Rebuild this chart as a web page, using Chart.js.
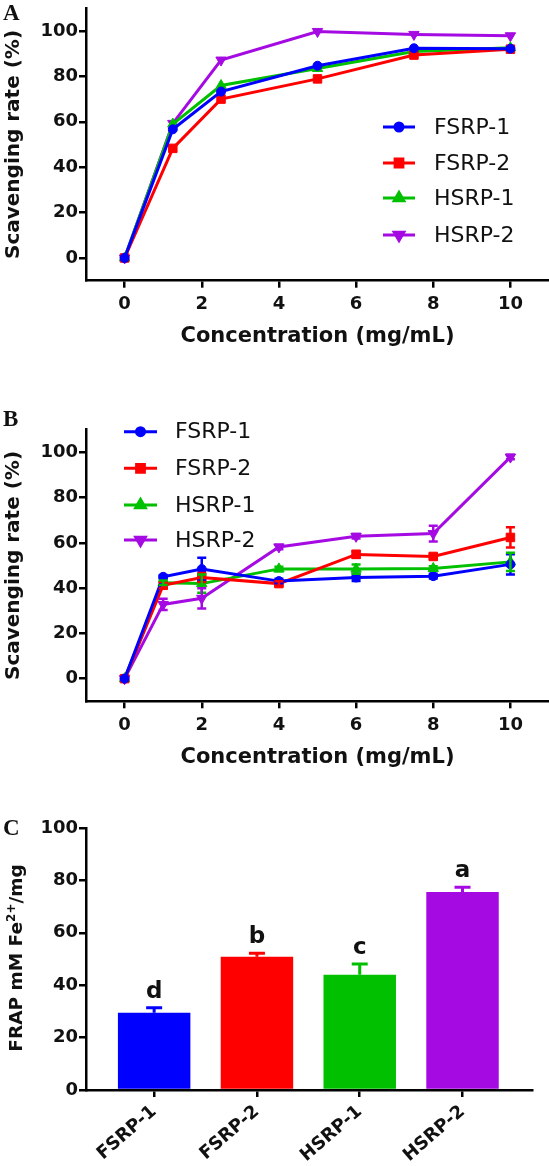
<!DOCTYPE html>
<html>
<head>
<meta charset="utf-8">
<script src="https://cdn.jsdelivr.net/npm/chart.js@4.4.1/dist/chart.umd.min.js"></script>
<style>
html, body { margin: 0; padding: 0; background: #fff; }
body { width: 549px; height: 1166px; position: relative; overflow: hidden; }
canvas { position: absolute; left: 0; }
.tag { position: absolute; font: bold 23px "Liberation Serif", "DejaVu Serif", serif; line-height: 23px; color: #111; }
</style>
</head>
<body>
<canvas id="chartA" width="549" height="360" style="top:0"></canvas>
<canvas id="chartB" width="549" height="410" style="top:360px"></canvas>
<canvas id="chartC" width="549" height="396" style="top:770px"></canvas>
<div class="tag" style="left:3px;top:1px">A</div>
<div class="tag" style="left:3px;top:407px">B</div>
<div class="tag" style="left:3px;top:816px">C</div>
<script>
// series names and colours
const seriesNames = ['FSRP-1', 'FSRP-2', 'HSRP-1', 'HSRP-2'];
const colors = ['#0000ff', '#ff0000', '#00c000', '#a50ae2'];

// panel A
const concA = [0, 1.25, 2.5, 5, 7.5, 10];
const fsrp1A = [0, 56.7, 73.3, 84.7, 92.4, 92.2];
const fsrp2A = [0, 48.3, 70.0, 78.9, 89.4, 92.0];
const hsrp1A = [0, 59.0, 76.0, 83.5, 91.0, 92.6];
const hsrp2A = [0, 59.3, 87.2, 99.8, 98.5, 97.9];

// panel B
const concB = [0, 1, 2, 4, 6, 8, 10];
const fsrp1B = [0, 45.0, 48.4, 43.1, 44.7, 45.3, 50.5];
const fsrp2B = [0, 41.3, 44.7, 42.0, 54.9, 54.0, 62.4];
const hsrp1B = [0, 42.4, 42.0, 48.5, 48.4, 48.7, 51.6];
const hsrp2B = [0, 32.8, 35.5, 58.2, 62.9, 64.1, 97.9];
const fsrp1BErr = [0, 0.8, 5.0, 1.0, 1.5, 1.0, 4.5];
const fsrp2BErr = [0, 1.5, 2.0, 1.0, 1.5, 1.0, 4.5];
const hsrp1BErr = [0, 1.0, 4.0, 1.0, 2.0, 1.0, 4.0];
const hsrp2BErr = [0, 2.5, 4.5, 1.0, 1.0, 3.5, 1.0];

// panel C
const barLabels = ['FSRP-1', 'FSRP-2', 'HSRP-1', 'HSRP-2'];
const frapValues = [29.5, 50.9, 44.0, 75.6];
const frapErr = [1.9, 1.3, 4.1, 1.8];
const frapLetters = ['d', 'b', 'c', 'a'];

// tick labels
const xTicksAB = [0, 2, 4, 6, 8, 10];
const yTicksAB = [0, 20, 40, 60, 80, 100];
const yTicksC = [0, 20, 40, 60, 80, 100];

const pointStyles = ['circle', 'rect', 'triangle', 'triangle'];
const pointRot = [0, 0, 0, 180];
const pointSizes = [4.5, 6, 6, 6];

const FONT = 'DejaVu Sans';
const tickFont = { family: FONT, weight: 'bold', size: 18 };

// error bars (lines: both ways, bars: up only) + letters
const errorBars = {
  id: 'errorBars',
  afterDatasetsDraw(chart) {
    const ctx = chart.ctx;
    const ys = chart.scales.y;
    chart.data.datasets.forEach((ds, i) => {
      if (!ds.errors) return;
      const meta = chart.getDatasetMeta(i);
      ctx.save();
      meta.data.forEach((el, j) => {
        const e = ds.errors[j];
        const v = ds.data[j].y;
        const col = Array.isArray(ds.backgroundColor) ? ds.backgroundColor[j] : ds.borderColor;
        const x = el.x;
        const top = ys.getPixelForValue(v + e);
        if (chart.config.type === 'bar') {
          ctx.strokeStyle = col;
          ctx.lineWidth = 3;
          ctx.beginPath();
          ctx.moveTo(x, ys.getPixelForValue(v));
          ctx.lineTo(x, top);
          ctx.moveTo(x - 8, top);
          ctx.lineTo(x + 8, top);
          ctx.stroke();
          if (ds.letters) {
            ctx.fillStyle = '#111';
            ctx.font = 'bold 23px "DejaVu Sans"';
            ctx.textAlign = 'center';
            ctx.textBaseline = 'middle';
            ctx.fillText(ds.letters[j], x, top - 16);
          }
        } else {
          if (!e) return;
          const bot = ys.getPixelForValue(v - e);
          ctx.strokeStyle = col;
          ctx.lineWidth = 2.5;
          ctx.beginPath();
          ctx.moveTo(x, bot);
          ctx.lineTo(x, top);
          ctx.moveTo(x - 4.5, top);
          ctx.lineTo(x + 4.5, top);
          ctx.moveTo(x - 4.5, bot);
          ctx.lineTo(x + 4.5, bot);
          ctx.stroke();
        }
      });
      ctx.restore();
    });
  }
};

// legend drawn inside the plot
const sideLegend = {
  id: 'sideLegend',
  afterDraw(chart, args, opts) {
    if (!opts.rows) return;
    const ctx = chart.ctx;
    ctx.save();
    chart.data.datasets.forEach((ds, i) => {
      const y = opts.rows[i];
      ctx.strokeStyle = ds.borderColor;
      ctx.fillStyle = ds.borderColor;
      ctx.lineWidth = 3;
      ctx.beginPath();
      ctx.moveTo(opts.x0, y);
      ctx.lineTo(opts.x1, y);
      ctx.stroke();
      Chart.helpers.drawPoint(ctx, {
        pointStyle: ds.pointStyle, rotation: ds.pointRotation,
        radius: ds.pointRadius - 0.5, borderWidth: 1
      }, (opts.x0 + opts.x1) / 2, y);
      ctx.fillStyle = '#111';
      ctx.font = '22px "DejaVu Sans"';
      ctx.textAlign = 'left';
      ctx.textBaseline = 'middle';
      ctx.fillText(seriesNames[i], opts.textX, y + 1);
    });
    ctx.restore();
  }
};

// custom y title for C (superscript)
const fracTitle = {
  id: 'fracTitle',
  afterDraw(chart) {
    const ctx = chart.ctx;
    ctx.save();
    ctx.translate(17.5, 958 - 770);
    ctx.rotate(-Math.PI / 2);
    ctx.fillStyle = '#111';
    ctx.textBaseline = 'middle';
    const big = 'bold 18.5px "DejaVu Sans"';
    const small = 'bold 12px "DejaVu Sans"';
    const parts = [['FRAP mM Fe', big, 0], ['2+', small, -6], ['/mg', big, 0]];
    let w = 0;
    parts.forEach(p => { ctx.font = p[1]; w += ctx.measureText(p[0]).width; });
    let x = -w / 2;
    parts.forEach(p => {
      ctx.font = p[1];
      ctx.fillText(p[0], x, p[2]);
      x += ctx.measureText(p[0]).width;
    });
    ctx.restore();
  }
};

function axisStyle() {
  return {
    border: { display: true, color: '#000', width: 2.5 },
    grid: { display: true, offset: false, drawOnChartArea: false, drawTicks: true, tickLength: 7, color: '#000', lineWidth: 2.5 }
  };
}

function lineDatasets(xs, series, errs) {
  return series.map((vals, i) => ({
    label: seriesNames[i],
    data: xs.map((x, j) => ({ x: x, y: vals[j] })),
    errors: errs ? errs[i] : null,
    borderColor: colors[i],
    backgroundColor: colors[i],
    pointBackgroundColor: colors[i],
    pointBorderColor: colors[i],
    pointBorderWidth: 1,
    pointStyle: pointStyles[i],
    pointRotation: pointRot[i],
    pointRadius: pointSizes[i],
    borderWidth: 3,
    tension: 0,
    clip: false
  }));
}

function lineChart(id, datasets, padTop, xHeight, tickPad, titlePad, legend) {
  return new Chart(document.getElementById(id), {
    type: 'line',
    data: { datasets: datasets },
    options: {
      responsive: false,
      animation: false,
      layout: { autoPadding: false, padding: { top: padTop, right: 0, bottom: 0, left: 0 } },
      plugins: { legend: { display: false }, tooltip: { enabled: false }, sideLegend: legend },
      scales: {
        x: Object.assign(axisStyle(), {
          type: 'linear', min: -1, max: 11,
          afterFit: s => { s.height = xHeight; s.paddingRight = 0; s.paddingLeft = 0; },
          afterBuildTicks: s => { s.ticks = xTicksAB.map(v => ({ value: v })); },
          ticks: { color: '#111', font: tickFont, padding: tickPad, maxRotation: 0, autoSkip: false },
          title: { display: true, text: 'Concentration (mg/mL)', color: '#111',
            font: { family: FONT, weight: 'bold', size: 21 }, padding: { top: 0, bottom: titlePad } }
        }),
        y: Object.assign(axisStyle(), {
          type: 'linear', min: -10, max: 110,
          afterFit: s => { s.width = 86; s.paddingTop = 0; s.paddingBottom = 0; },
          afterBuildTicks: s => { s.ticks = yTicksAB.map(v => ({ value: v })); },
          ticks: { color: '#111', font: tickFont, padding: 1 },
          title: { display: true, text: 'Scavenging rate (%)', color: '#111',
            font: { family: FONT, weight: 'bold', size: 20 }, padding: { top: 2, bottom: 0 } }
        })
      }
    },
    plugins: [errorBars, sideLegend]
  });
}

lineChart('chartA', lineDatasets(concA, [fsrp1A, fsrp2A, hsrp1A, hsrp2A], null),
  8.3, 79.3, 5.5, 10.7, { rows: [127, 163, 198, 235], x0: 383, x1: 415, textX: 434 });

lineChart('chartB', lineDatasets(concB, [fsrp1B, fsrp2B, hsrp1B, hsrp2B],
  [fsrp1BErr, fsrp2BErr, hsrp1BErr, hsrp2BErr]),
  69.7, 68.7, 6.6, 0, { rows: [71.7, 108.3, 145, 180], x0: 124, x1: 157, textX: 175 });

new Chart(document.getElementById('chartC'), {
  type: 'bar',
  data: {
    datasets: [{
      label: 'FRAP',
      data: frapValues.map((v, i) => ({ x: i, y: v })),
      errors: frapErr,
      letters: frapLetters,
      backgroundColor: colors,
      borderWidth: 0,
      categoryPercentage: 1,
      barPercentage: 0.705
    }]
  },
  options: {
    responsive: false,
    animation: false,
    layout: { autoPadding: false, padding: { top: 58, right: 17, bottom: 0, left: 0 } },
    plugins: { legend: { display: false }, tooltip: { enabled: false } },
    scales: {
      x: Object.assign(axisStyle(), {
        type: 'linear', min: -0.663, max: 3.676, offset: false,
        afterFit: s => { s.height = 76; s.paddingRight = 0; s.paddingLeft = 0; },
        afterBuildTicks: s => { s.ticks = barLabels.map((l, i) => ({ value: i })); },
        ticks: { color: '#111', font: { family: FONT, weight: 'bold', size: 18 }, padding: 4,
          minRotation: 41, maxRotation: 41, autoSkip: false,
          callback: v => barLabels[v] }
      }),
      y: Object.assign(axisStyle(), {
        type: 'linear', min: 0, max: 100,
        afterFit: s => { s.width = 86; s.paddingTop = 0; s.paddingBottom = 0; },
        afterBuildTicks: s => { s.ticks = yTicksC.map(v => ({ value: v })); },
        ticks: { color: '#111', font: tickFont, padding: 1 }
      })
    }
  },
  plugins: [errorBars, fracTitle]
});
</script>
</body>
</html>
